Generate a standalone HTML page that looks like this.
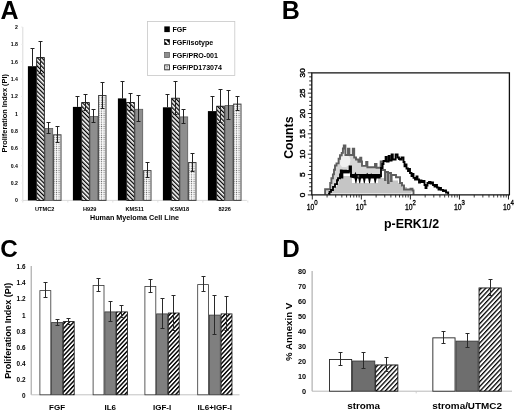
<!DOCTYPE html>
<html><head><meta charset="utf-8"><title>Figure</title>
<style>
html,body{margin:0;padding:0;background:#fff;}
body{width:520px;height:411px;overflow:hidden;}
svg{display:block;font-family:"Liberation Sans", sans-serif;will-change:transform;}
</style></head>
<body>
<svg width="520" height="411" viewBox="0 0 520 411">

<defs>
<pattern id="hA" patternUnits="userSpaceOnUse" width="3" height="3" patternTransform="rotate(-45)">
 <rect x="0" y="0" width="1.3" height="3" fill="#000"/></pattern>
<pattern id="hC" patternUnits="userSpaceOnUse" width="3.1" height="3.1" patternTransform="rotate(43)">
 <rect x="0" y="0" width="1.45" height="3.1" fill="#000"/></pattern>
<pattern id="hD" patternUnits="userSpaceOnUse" width="3.3" height="3.3" patternTransform="rotate(43)">
 <rect x="0" y="0" width="1.3" height="3.3" fill="#000"/></pattern>
<pattern id="dt" patternUnits="userSpaceOnUse" width="2.5" height="2.2" x="0.3" y="0">
 <rect width="2.5" height="2.2" fill="#fff"/><rect x="0.7" y="0.55" width="1.1" height="1.1" fill="#686868"/></pattern>
</defs>
<rect width="520" height="411" fill="#fff"/>
<text x="0.4" y="19.3" font-size="25" text-anchor="start" font-weight="bold" fill="#000" >A</text>
<path d="M22.8 27V200.4H246.8" stroke="#dadada" stroke-width="1" fill="none"/>
<path d="M22.8 200.4V202.6" stroke="#dcdcdc" stroke-width="0.8"/>
<path d="M67.8 200.4V202.6" stroke="#dcdcdc" stroke-width="0.8"/>
<path d="M112.8 200.4V202.6" stroke="#dcdcdc" stroke-width="0.8"/>
<path d="M157.8 200.4V202.6" stroke="#dcdcdc" stroke-width="0.8"/>
<path d="M202.8 200.4V202.6" stroke="#dcdcdc" stroke-width="0.8"/>
<path d="M247.8 200.4V202.6" stroke="#dcdcdc" stroke-width="0.8"/>
<path d="M21 200.4H22.8" stroke="#ececec" stroke-width="0.8"/>
<text x="17.9" y="202.25" font-size="5.2" text-anchor="end" font-weight="bold" fill="#000" >0</text>
<path d="M21 183.06H22.8" stroke="#ececec" stroke-width="0.8"/>
<text x="17.9" y="184.91" font-size="5.2" text-anchor="end" font-weight="bold" fill="#000" >0.2</text>
<path d="M21 165.72H22.8" stroke="#ececec" stroke-width="0.8"/>
<text x="17.9" y="167.57" font-size="5.2" text-anchor="end" font-weight="bold" fill="#000" >0.4</text>
<path d="M21 148.38H22.8" stroke="#ececec" stroke-width="0.8"/>
<text x="17.9" y="150.23" font-size="5.2" text-anchor="end" font-weight="bold" fill="#000" >0.6</text>
<path d="M21 131.04H22.8" stroke="#ececec" stroke-width="0.8"/>
<text x="17.9" y="132.89" font-size="5.2" text-anchor="end" font-weight="bold" fill="#000" >0.8</text>
<path d="M21 113.7H22.8" stroke="#ececec" stroke-width="0.8"/>
<text x="17.9" y="115.55" font-size="5.2" text-anchor="end" font-weight="bold" fill="#000" >1</text>
<path d="M21 96.36H22.8" stroke="#ececec" stroke-width="0.8"/>
<text x="17.9" y="98.21" font-size="5.2" text-anchor="end" font-weight="bold" fill="#000" >1.2</text>
<path d="M21 79.02H22.8" stroke="#ececec" stroke-width="0.8"/>
<text x="17.9" y="80.87" font-size="5.2" text-anchor="end" font-weight="bold" fill="#000" >1.4</text>
<path d="M21 61.68H22.8" stroke="#ececec" stroke-width="0.8"/>
<text x="17.9" y="63.53" font-size="5.2" text-anchor="end" font-weight="bold" fill="#000" >1.6</text>
<path d="M21 44.34H22.8" stroke="#ececec" stroke-width="0.8"/>
<text x="17.9" y="46.19" font-size="5.2" text-anchor="end" font-weight="bold" fill="#000" >1.8</text>
<path d="M21 27H22.8" stroke="#ececec" stroke-width="0.8"/>
<text x="17.9" y="28.85" font-size="5.2" text-anchor="end" font-weight="bold" fill="#000" >2</text>
<text transform="translate(7.3,113.3) rotate(-90) scale(1,1)" x="0" y="0" font-size="7.35" text-anchor="middle" font-weight="bold" fill="#000">Proliferation Index (PI)</text>
<rect x="27.9" y="66.2" width="8.4" height="134.2" fill="#000"/>
<rect x="36.7" y="57.6" width="7.6" height="142.8" fill="url(#hA)" stroke="#000" stroke-width="0.8"/>
<rect x="45.1" y="128.4" width="7.6" height="72" fill="#8e8e8e" stroke="#5a5a5a" stroke-width="0.8"/>
<rect x="53.6" y="134.8" width="7.4" height="65.6" fill="url(#dt)" stroke="#404040" stroke-width="1"/>
<path d="M32.5 48.5V66.2M30.5 48.5H34.5" stroke="#222" stroke-width="1" fill="none"/>
<path d="M40.5 41.5V73.5M38.5 41.5H42.5M38.5 73.5H42.5" stroke="#222" stroke-width="1" fill="none"/>
<path d="M48.5 122.5V133.5M46.5 122.5H50.5M46.5 133.5H50.5" stroke="#222" stroke-width="1" fill="none"/>
<path d="M57.5 126.5V142.5M55.5 126.5H59.5M55.5 142.5H59.5" stroke="#222" stroke-width="1" fill="none"/>
<text x="44.7" y="210.6" font-size="5.6" text-anchor="middle" font-weight="bold" fill="#000" >UTMC2</text>
<rect x="72.9" y="106.9" width="8.4" height="93.5" fill="#000"/>
<rect x="81.7" y="102.6" width="7.6" height="97.8" fill="url(#hA)" stroke="#000" stroke-width="0.8"/>
<rect x="90.1" y="116.5" width="7.6" height="83.9" fill="#8e8e8e" stroke="#5a5a5a" stroke-width="0.8"/>
<rect x="98.6" y="95.5" width="7.4" height="104.9" fill="url(#dt)" stroke="#404040" stroke-width="1"/>
<path d="M77.5 96.5V106.9M75.5 96.5H79.5" stroke="#222" stroke-width="1" fill="none"/>
<path d="M85.5 94.5V110.5M83.5 94.5H87.5M83.5 110.5H87.5" stroke="#222" stroke-width="1" fill="none"/>
<path d="M93.5 109.5V122.5M91.5 109.5H95.5M91.5 122.5H95.5" stroke="#222" stroke-width="1" fill="none"/>
<path d="M102.5 82.5V108.5M100.5 82.5H104.5M100.5 108.5H104.5" stroke="#222" stroke-width="1" fill="none"/>
<text x="89.7" y="210.6" font-size="5.6" text-anchor="middle" font-weight="bold" fill="#000" >H929</text>
<rect x="117.9" y="98.4" width="8.4" height="102" fill="#000"/>
<rect x="126.7" y="102.5" width="7.6" height="97.9" fill="url(#hA)" stroke="#000" stroke-width="0.8"/>
<rect x="135.1" y="109.3" width="7.6" height="91.1" fill="#8e8e8e" stroke="#5a5a5a" stroke-width="0.8"/>
<rect x="143.6" y="170.6" width="7.4" height="29.8" fill="url(#dt)" stroke="#404040" stroke-width="1"/>
<path d="M122.5 81.5V98.4M120.5 81.5H124.5" stroke="#222" stroke-width="1" fill="none"/>
<path d="M130.5 93.5V110.5M128.5 93.5H132.5M128.5 110.5H132.5" stroke="#222" stroke-width="1" fill="none"/>
<path d="M138.5 95.5V121.5M136.5 95.5H140.5M136.5 121.5H140.5" stroke="#222" stroke-width="1" fill="none"/>
<path d="M147.5 162.5V177.5M145.5 162.5H149.5M145.5 177.5H149.5" stroke="#222" stroke-width="1" fill="none"/>
<text x="134.7" y="210.6" font-size="5.6" text-anchor="middle" font-weight="bold" fill="#000" >KMS11</text>
<rect x="162.9" y="107.3" width="8.4" height="93.1" fill="#000"/>
<rect x="171.7" y="98.2" width="7.6" height="102.2" fill="url(#hA)" stroke="#000" stroke-width="0.8"/>
<rect x="180.1" y="116.9" width="7.6" height="83.5" fill="#8e8e8e" stroke="#5a5a5a" stroke-width="0.8"/>
<rect x="188.6" y="162.5" width="7.4" height="37.9" fill="url(#dt)" stroke="#404040" stroke-width="1"/>
<path d="M167.5 94.5V107.3M165.5 94.5H169.5" stroke="#222" stroke-width="1" fill="none"/>
<path d="M175.5 81.5V114.5M173.5 81.5H177.5M173.5 114.5H177.5" stroke="#222" stroke-width="1" fill="none"/>
<path d="M183.5 109.5V123.5M181.5 109.5H185.5M181.5 123.5H185.5" stroke="#222" stroke-width="1" fill="none"/>
<path d="M192.5 153.5V171.5M190.5 153.5H194.5M190.5 171.5H194.5" stroke="#222" stroke-width="1" fill="none"/>
<text x="179.7" y="210.6" font-size="5.6" text-anchor="middle" font-weight="bold" fill="#000" >KSM18</text>
<rect x="207.9" y="111.1" width="8.4" height="89.3" fill="#000"/>
<rect x="216.7" y="106.2" width="7.6" height="94.2" fill="url(#hA)" stroke="#000" stroke-width="0.8"/>
<rect x="225.1" y="105.4" width="7.6" height="95" fill="#8e8e8e" stroke="#5a5a5a" stroke-width="0.8"/>
<rect x="233.6" y="104.1" width="7.4" height="96.3" fill="url(#dt)" stroke="#404040" stroke-width="1"/>
<path d="M212.5 96.5V111.1M210.5 96.5H214.5" stroke="#222" stroke-width="1" fill="none"/>
<path d="M220.5 89.5V122.5M218.5 89.5H222.5M218.5 122.5H222.5" stroke="#222" stroke-width="1" fill="none"/>
<path d="M228.5 90.5V119.5M226.5 90.5H230.5M226.5 119.5H230.5" stroke="#222" stroke-width="1" fill="none"/>
<path d="M237.5 96.5V110.5M235.5 96.5H239.5M235.5 110.5H239.5" stroke="#222" stroke-width="1" fill="none"/>
<text x="224.7" y="210.6" font-size="5.6" text-anchor="middle" font-weight="bold" fill="#000" >8226</text>
<text x="134.5" y="220.4" font-size="7.2" text-anchor="middle" font-weight="bold" fill="#000" >Human Myeloma Cell Line</text>
<rect x="147.5" y="21.5" width="87.3" height="54" fill="#fff" stroke="#c8c8c8" stroke-width="0.8"/>
<rect x="164.3" y="26.4" width="5.5" height="5.7" fill="#000"/>
<text x="172.5" y="32.3" font-size="7.05" text-anchor="start" font-weight="bold" fill="#000" >FGF</text>
<rect x="164.6" y="39.6" width="4.9" height="5.1" fill="#000" stroke="#000" stroke-width="0.6"/>
<path d="M165.3 40.6L168.7 44" stroke="#fff" stroke-width="1.8"/>
<text x="172.5" y="45.2" font-size="7.05" text-anchor="start" font-weight="bold" fill="#000" >FGF/isotype</text>
<rect x="164.6" y="52.4" width="4.9" height="5.1" fill="#8e8e8e" stroke="#555" stroke-width="0.7"/>
<text x="172.5" y="58" font-size="7.05" text-anchor="start" font-weight="bold" fill="#000" >FGF/PRO-001</text>
<rect x="164.7" y="64.9" width="4.7" height="4.9" fill="#fff" stroke="#333" stroke-width="1"/>
<path d="M166.3 66.4h1.6M166.3 68h1.6" stroke="#777" stroke-width="0.9"/>
<text x="172.5" y="70.4" font-size="7.05" text-anchor="start" font-weight="bold" fill="#000" >FGF/PD173074</text>
<text x="281.7" y="18.9" font-size="25" text-anchor="start" font-weight="bold" fill="#000" >B</text>
<polygon points="325.1,194.6 325.1,189.2 330.2,189.2 330.2,183 331.4,183 331.4,178.2 332.9,178.2 332.9,174.4 334,174.4 334,169.7 335,169.7 335,165.5 336.5,165.5 336.5,163.4 338.6,163.4 338.6,158.7 340,158.7 340,155.2 341.7,155.2 341.7,152.9 342.9,152.9 342.9,148.5 343.8,148.5 343.8,145.5 345.4,145.5 345.4,155 348,155 348,148.8 349.4,148.8 349.4,155 352.8,155 352.8,148.8 354.2,148.8 354.2,157.5 356,157.5 356,159.5 358.4,159.5 358.4,161.8 360.2,161.8 360.2,157.7 361.3,157.7 361.3,161.5 362,161.5 362,165.9 366.2,165.9 366.2,162 367.4,162 367.4,167.2 375,167.2 375,164 376.5,164 376.5,167.8 380.7,167.8 380.7,161.5 382.7,161.5 382.7,170 385,170 385,180 385.6,180 385.6,172 388,172 388,183 388.6,183 388.6,173 391,173 391,181 391.6,181 391.6,175 396,175 396,177.3 400,177.3 400,183 402,183 402,185.5 404,185.5 404,189.5 410.5,189.5 410.5,188.7 412.5,188.7 412.5,190.5 413.5,190.5 413.5,194.6" fill="#d6d6d6"/>
<polygon points="339.8,164 341,158 342.8,154.5 345,152.5 347.2,155 349.5,157 350.5,160 349.5,165 346,167 342,167" fill="#f0f0f0"/>
<polygon points="329,194.6 329,194 329.5,194 329.5,191.9 331,191.9 331,190 333,190 333,186.8 335,186.8 335,184.1 337,184.1 337,180.2 338,180.2 338,178.2 340,178.2 340,174.4 340.8,174.4 340.8,170.4 341.6,170.4 341.6,177.5 342.4,177.5 342.4,170.6 346,170.6 346,171.2 349.6,171.2 349.6,166.4 351,166.4 351,176.2 381,176.2 381,168 382.3,168 382.3,164 383.5,164 383.5,161 385.6,161 385.6,157 386.6,157 386.6,161.5 388.6,161.5 388.6,155.8 389.6,155.8 389.6,160.5 391.6,160.5 391.6,154.5 392.8,154.5 392.8,159.5 395.6,159.5 395.6,154.5 397.6,154.5 397.6,157.5 399,157.5 399,159 400,159 400,159.5 401.5,159.5 401.5,157.5 403.5,157.5 403.5,162 404.5,162 404.5,166.3 405.5,166.3 405.5,164.5 406.5,164.5 406.5,168.5 408,168.5 408,171 409,171 409,169 410,169 410,173 411.5,173 411.5,176 412.5,176 412.5,174 413.5,174 413.5,177.8 415,177.8 415,179.5 416.5,179.5 416.5,176.5 417.5,176.5 417.5,179.5 419,179.5 419,182.5 420,182.5 420,180.5 421.5,180.5 421.5,182 423,182 423,181 424.5,181 424.5,185 425.5,185 425.5,188 426.5,188 426.5,185.5 427.5,185.5 427.5,183 429,183 429,182 430.5,182 430.5,183.5 432,183.5 432,182.3 433,182.3 433,185 434.5,185 434.5,186.5 436,186.5 436,185 437,185 437,187.5 438.5,187.5 438.5,189.5 440,189.5 440,188 441,188 441,189.8 443,189.8 443,191 444,191 444,190.5 446,190.5 446,192.5 448.2,192.5 448.2,194.6" fill="#fff"/>
<polygon points="329.5,193.6 329.5,192.5 331,192.5 331,190.5 333,190.5 333,188.5 335,188.5 335,186.5 337,186.5 337,183.5 338.5,183.5 338.5,180.5 340,180.5 340,178.5 342,178.5 342,176.1 352,176.1 352,183 378,183 378,178 385,178 385,180.4 398,180.4 398,183 402,183 402,187 407,187 407,190 411.5,190 411.5,193.6" fill="#c5c5c5"/>
<polyline points="325.1,194.6 325.1,189.2 330.2,189.2 330.2,183 331.4,183 331.4,178.2 332.9,178.2 332.9,174.4 334,174.4 334,169.7 335,169.7 335,165.5 336.5,165.5 336.5,163.4 338.6,163.4 338.6,158.7 340,158.7 340,155.2 341.7,155.2 341.7,152.9 342.9,152.9 342.9,148.5 343.8,148.5 343.8,145.5 345.4,145.5 345.4,155 348,155 348,148.8 349.4,148.8 349.4,155 352.8,155 352.8,148.8 354.2,148.8 354.2,157.5 356,157.5 356,159.5 358.4,159.5 358.4,161.8 360.2,161.8 360.2,157.7 361.3,157.7 361.3,161.5 362,161.5 362,165.9 366.2,165.9 366.2,162 367.4,162 367.4,167.2 375,167.2 375,164 376.5,164 376.5,167.8 380.7,167.8 380.7,161.5 382.7,161.5 382.7,170 385,170 385,180 385.6,180 385.6,172 388,172 388,183 388.6,183 388.6,173 391,173 391,181 391.6,181 391.6,175 396,175 396,177.3 400,177.3 400,183 402,183 402,185.5 404,185.5 404,189.5 410.5,189.5 410.5,188.7 412.5,188.7 412.5,190.5 413.5,190.5 413.5,194.6" fill="none" stroke="#5e5e5e" stroke-width="1.9" stroke-linejoin="miter"/>
<polyline points="329,194.6 329,194 329.5,194 329.5,191.9 331,191.9 331,190 333,190 333,186.8 335,186.8 335,184.1 337,184.1 337,180.2 338,180.2 338,178.2 340,178.2 340,174.4 340.8,174.4 340.8,170.4 341.6,170.4 341.6,177.5 342.4,177.5 342.4,170.6 346,170.6 346,171.2 349.6,171.2 349.6,166.4 351,166.4 351,176.2 381,176.2 381,168 382.3,168 382.3,164 383.5,164 383.5,161 385.6,161 385.6,157 386.6,157 386.6,161.5 388.6,161.5 388.6,155.8 389.6,155.8 389.6,160.5 391.6,160.5 391.6,154.5 392.8,154.5 392.8,159.5 395.6,159.5 395.6,154.5 397.6,154.5 397.6,157.5 399,157.5 399,159 400,159 400,159.5 401.5,159.5 401.5,157.5 403.5,157.5 403.5,162 404.5,162 404.5,166.3 405.5,166.3 405.5,164.5 406.5,164.5 406.5,168.5 408,168.5 408,171 409,171 409,169 410,169 410,173 411.5,173 411.5,176 412.5,176 412.5,174 413.5,174 413.5,177.8 415,177.8 415,179.5 416.5,179.5 416.5,176.5 417.5,176.5 417.5,179.5 419,179.5 419,182.5 420,182.5 420,180.5 421.5,180.5 421.5,182 423,182 423,181 424.5,181 424.5,185 425.5,185 425.5,188 426.5,188 426.5,185.5 427.5,185.5 427.5,183 429,183 429,182 430.5,182 430.5,183.5 432,183.5 432,182.3 433,182.3 433,185 434.5,185 434.5,186.5 436,186.5 436,185 437,185 437,187.5 438.5,187.5 438.5,189.5 440,189.5 440,188 441,188 441,189.8 443,189.8 443,191 444,191 444,190.5 446,190.5 446,192.5 448.2,192.5 448.2,194.6" fill="none" stroke="#000" stroke-width="1.85" stroke-linejoin="miter"/>
<rect x="342.4" y="170" width="7.4" height="3.4" fill="#000"/>
<polygon points="350.2,174 354.6,174 355.4,171.8 356.3,174 366.4,174 367.2,172.8 368,174 370.6,174 371.2,173.2 371.8,174 380.6,174 380.6,178.6 376.6,178.6 375.6,183.3 374.8,183.3 373.8,178.6 370.8,178.6 369.9,183.3 369.1,183.3 368.2,178.6 365.6,178.6 364.7,183.3 363.9,183.3 363,178.6 361,178.6 360.1,183.3 359.3,183.3 358.4,178.6 357.2,178.6 356.3,183.3 355.5,183.3 354.6,178.6 350.2,177.2" fill="#000"/>
<rect x="357.6" y="175.2" width="1.6" height="2.2" fill="#666"/>
<path d="M311.8 72.8H509.4V194.9H311.8Z" fill="none" stroke="#111" stroke-width="1.3"/>
<path d="M307.8 194.9H311.8" stroke="#111" stroke-width="0.9"/>
<path d="M309.2 190.83H311.8" stroke="#111" stroke-width="0.9"/>
<path d="M309.2 186.76H311.8" stroke="#111" stroke-width="0.9"/>
<path d="M309.2 182.69H311.8" stroke="#111" stroke-width="0.9"/>
<path d="M309.2 178.62H311.8" stroke="#111" stroke-width="0.9"/>
<path d="M307.8 174.55H311.8" stroke="#111" stroke-width="0.9"/>
<path d="M309.2 170.48H311.8" stroke="#111" stroke-width="0.9"/>
<path d="M309.2 166.41H311.8" stroke="#111" stroke-width="0.9"/>
<path d="M309.2 162.34H311.8" stroke="#111" stroke-width="0.9"/>
<path d="M309.2 158.27H311.8" stroke="#111" stroke-width="0.9"/>
<path d="M307.8 154.2H311.8" stroke="#111" stroke-width="0.9"/>
<path d="M309.2 150.13H311.8" stroke="#111" stroke-width="0.9"/>
<path d="M309.2 146.06H311.8" stroke="#111" stroke-width="0.9"/>
<path d="M309.2 141.99H311.8" stroke="#111" stroke-width="0.9"/>
<path d="M309.2 137.92H311.8" stroke="#111" stroke-width="0.9"/>
<path d="M307.8 133.85H311.8" stroke="#111" stroke-width="0.9"/>
<path d="M309.2 129.78H311.8" stroke="#111" stroke-width="0.9"/>
<path d="M309.2 125.71H311.8" stroke="#111" stroke-width="0.9"/>
<path d="M309.2 121.64H311.8" stroke="#111" stroke-width="0.9"/>
<path d="M309.2 117.57H311.8" stroke="#111" stroke-width="0.9"/>
<path d="M307.8 113.5H311.8" stroke="#111" stroke-width="0.9"/>
<path d="M309.2 109.43H311.8" stroke="#111" stroke-width="0.9"/>
<path d="M309.2 105.36H311.8" stroke="#111" stroke-width="0.9"/>
<path d="M309.2 101.29H311.8" stroke="#111" stroke-width="0.9"/>
<path d="M309.2 97.22H311.8" stroke="#111" stroke-width="0.9"/>
<path d="M307.8 93.15H311.8" stroke="#111" stroke-width="0.9"/>
<path d="M309.2 89.08H311.8" stroke="#111" stroke-width="0.9"/>
<path d="M309.2 85.01H311.8" stroke="#111" stroke-width="0.9"/>
<path d="M309.2 80.94H311.8" stroke="#111" stroke-width="0.9"/>
<path d="M309.2 76.87H311.8" stroke="#111" stroke-width="0.9"/>
<path d="M307.8 72.8H311.8" stroke="#111" stroke-width="0.9"/>
<text transform="translate(304.7,194.9) rotate(-90) scale(1.18,1)" font-size="7.1" text-anchor="middle" fill="#000" stroke="#000" stroke-width="0.38">0</text>
<text transform="translate(304.7,174.55) rotate(-90) scale(1.18,1)" font-size="7.1" text-anchor="middle" fill="#000" stroke="#000" stroke-width="0.38">5</text>
<text transform="translate(304.7,154.2) rotate(-90) scale(1.18,1)" font-size="7.1" text-anchor="middle" fill="#000" stroke="#000" stroke-width="0.38">10</text>
<text transform="translate(304.7,133.85) rotate(-90) scale(1.18,1)" font-size="7.1" text-anchor="middle" fill="#000" stroke="#000" stroke-width="0.38">15</text>
<text transform="translate(304.7,113.5) rotate(-90) scale(1.18,1)" font-size="7.1" text-anchor="middle" fill="#000" stroke="#000" stroke-width="0.38">20</text>
<text transform="translate(304.7,93.15) rotate(-90) scale(1.18,1)" font-size="7.1" text-anchor="middle" fill="#000" stroke="#000" stroke-width="0.38">25</text>
<text transform="translate(304.7,72.8) rotate(-90) scale(1.18,1)" font-size="7.1" text-anchor="middle" fill="#000" stroke="#000" stroke-width="0.38">30</text>
<path d="M312.3 194.9V199.5" stroke="#111" stroke-width="0.9"/>
<path d="M327.07 194.9V197.5" stroke="#111" stroke-width="0.8"/>
<path d="M335.7 194.9V197.5" stroke="#111" stroke-width="0.8"/>
<path d="M341.83 194.9V197.5" stroke="#111" stroke-width="0.8"/>
<path d="M346.58 194.9V197.5" stroke="#111" stroke-width="0.8"/>
<path d="M350.47 194.9V197.5" stroke="#111" stroke-width="0.8"/>
<path d="M353.75 194.9V197.5" stroke="#111" stroke-width="0.8"/>
<path d="M356.6 194.9V197.5" stroke="#111" stroke-width="0.8"/>
<path d="M359.11 194.9V197.5" stroke="#111" stroke-width="0.8"/>
<g transform="translate(306.8,210.2) scale(0.76,1)" fill="#000" stroke="#000" stroke-width="0.32"><text font-size="9">10</text><text x="9.9" y="-5.1" font-size="8">0</text></g>
<path d="M361.35 194.9V199.5" stroke="#111" stroke-width="0.9"/>
<path d="M376.12 194.9V197.5" stroke="#111" stroke-width="0.8"/>
<path d="M384.75 194.9V197.5" stroke="#111" stroke-width="0.8"/>
<path d="M390.88 194.9V197.5" stroke="#111" stroke-width="0.8"/>
<path d="M395.63 194.9V197.5" stroke="#111" stroke-width="0.8"/>
<path d="M399.52 194.9V197.5" stroke="#111" stroke-width="0.8"/>
<path d="M402.8 194.9V197.5" stroke="#111" stroke-width="0.8"/>
<path d="M405.65 194.9V197.5" stroke="#111" stroke-width="0.8"/>
<path d="M408.16 194.9V197.5" stroke="#111" stroke-width="0.8"/>
<g transform="translate(355.85,210.2) scale(0.76,1)" fill="#000" stroke="#000" stroke-width="0.32"><text font-size="9">10</text><text x="9.9" y="-5.1" font-size="8">1</text></g>
<path d="M410.4 194.9V199.5" stroke="#111" stroke-width="0.9"/>
<path d="M425.17 194.9V197.5" stroke="#111" stroke-width="0.8"/>
<path d="M433.8 194.9V197.5" stroke="#111" stroke-width="0.8"/>
<path d="M439.93 194.9V197.5" stroke="#111" stroke-width="0.8"/>
<path d="M444.68 194.9V197.5" stroke="#111" stroke-width="0.8"/>
<path d="M448.57 194.9V197.5" stroke="#111" stroke-width="0.8"/>
<path d="M451.85 194.9V197.5" stroke="#111" stroke-width="0.8"/>
<path d="M454.7 194.9V197.5" stroke="#111" stroke-width="0.8"/>
<path d="M457.21 194.9V197.5" stroke="#111" stroke-width="0.8"/>
<g transform="translate(404.9,210.2) scale(0.76,1)" fill="#000" stroke="#000" stroke-width="0.32"><text font-size="9">10</text><text x="9.9" y="-5.1" font-size="8">2</text></g>
<path d="M459.45 194.9V199.5" stroke="#111" stroke-width="0.9"/>
<path d="M474.22 194.9V197.5" stroke="#111" stroke-width="0.8"/>
<path d="M482.85 194.9V197.5" stroke="#111" stroke-width="0.8"/>
<path d="M488.98 194.9V197.5" stroke="#111" stroke-width="0.8"/>
<path d="M493.73 194.9V197.5" stroke="#111" stroke-width="0.8"/>
<path d="M497.62 194.9V197.5" stroke="#111" stroke-width="0.8"/>
<path d="M500.9 194.9V197.5" stroke="#111" stroke-width="0.8"/>
<path d="M503.75 194.9V197.5" stroke="#111" stroke-width="0.8"/>
<path d="M506.26 194.9V197.5" stroke="#111" stroke-width="0.8"/>
<g transform="translate(453.95,210.2) scale(0.76,1)" fill="#000" stroke="#000" stroke-width="0.32"><text font-size="9">10</text><text x="9.9" y="-5.1" font-size="8">3</text></g>
<path d="M508.5 194.9V199.5" stroke="#111" stroke-width="0.9"/>
<g transform="translate(503,210.2) scale(0.76,1)" fill="#000" stroke="#000" stroke-width="0.32"><text font-size="9">10</text><text x="9.9" y="-5.1" font-size="8">4</text></g>
<text transform="translate(292.8,137.7) rotate(-90) scale(1,1)" x="0" y="0" font-size="12.3" text-anchor="middle" font-weight="bold" fill="#000">Counts</text>
<text x="411.5" y="227.9" font-size="12.4" text-anchor="middle" font-weight="bold" fill="#000" >p-ERK1/2</text>
<text x="0.2" y="257.3" font-size="24.2" text-anchor="start" font-weight="bold" fill="#000" >C</text>
<path d="M31.2 266V394.8" stroke="#9a9a9a" stroke-width="1" fill="none"/>
<path d="M31.2 394.8H239.5" stroke="#c2c2c2" stroke-width="1" fill="none"/>
<text x="25.5" y="398" font-size="6.4" text-anchor="end" font-weight="bold" fill="#000" >0</text>
<text x="25.5" y="381.9" font-size="6.4" text-anchor="end" font-weight="bold" fill="#000" >0.2</text>
<text x="25.5" y="365.8" font-size="6.4" text-anchor="end" font-weight="bold" fill="#000" >0.4</text>
<text x="25.5" y="349.7" font-size="6.4" text-anchor="end" font-weight="bold" fill="#000" >0.6</text>
<text x="25.5" y="333.6" font-size="6.4" text-anchor="end" font-weight="bold" fill="#000" >0.8</text>
<text x="25.5" y="317.5" font-size="6.4" text-anchor="end" font-weight="bold" fill="#000" >1</text>
<text x="25.5" y="301.4" font-size="6.4" text-anchor="end" font-weight="bold" fill="#000" >1.2</text>
<text x="25.5" y="285.3" font-size="6.4" text-anchor="end" font-weight="bold" fill="#000" >1.4</text>
<text x="25.5" y="269.2" font-size="6.4" text-anchor="end" font-weight="bold" fill="#000" >1.6</text>
<text transform="translate(11.4,330.75) rotate(-90) scale(1,1)" x="0" y="0" font-size="9" text-anchor="middle" font-weight="bold" fill="#000">Proliferation Index (PI)</text>
<rect x="39.9" y="290.6" width="10.9" height="104.2" fill="#fff" stroke="#333" stroke-width="0.8"/>
<rect x="51.6" y="322.5" width="10.9" height="72.3" fill="#7f7f7f" stroke="#3a3a3a" stroke-width="0.8"/>
<rect x="63.3" y="321.6" width="10.9" height="73.2" fill="url(#hC)" stroke="#111" stroke-width="0.8"/>
<path d="M45.5 282.5V297.5M43.5 282.5H47.5M43.5 297.5H47.5" stroke="#2a2a2a" stroke-width="1" fill="none"/>
<path d="M57.5 319.5V325.5M55.5 319.5H59.5M55.5 325.5H59.5" stroke="#2a2a2a" stroke-width="1" fill="none"/>
<path d="M68.5 318.5V324.5M66.5 318.5H70.5M66.5 324.5H70.5" stroke="#2a2a2a" stroke-width="1" fill="none"/>
<text x="57.05" y="409.6" font-size="8" text-anchor="middle" font-weight="bold" fill="#000" >FGF</text>
<rect x="93.1" y="285.4" width="10.9" height="109.4" fill="#fff" stroke="#333" stroke-width="0.8"/>
<rect x="104.8" y="311.9" width="10.9" height="82.9" fill="#7f7f7f" stroke="#3a3a3a" stroke-width="0.8"/>
<rect x="116.5" y="311.9" width="10.9" height="82.9" fill="url(#hC)" stroke="#111" stroke-width="0.8"/>
<path d="M98.5 278.5V291.5M96.5 278.5H100.5M96.5 291.5H100.5" stroke="#2a2a2a" stroke-width="1" fill="none"/>
<path d="M110.5 301.5V321.5M108.5 301.5H112.5M108.5 321.5H112.5" stroke="#2a2a2a" stroke-width="1" fill="none"/>
<path d="M121.5 305.5V317.5M119.5 305.5H123.5M119.5 317.5H123.5" stroke="#2a2a2a" stroke-width="1" fill="none"/>
<text x="110.25" y="409.6" font-size="8" text-anchor="middle" font-weight="bold" fill="#000" >IL6</text>
<rect x="144.9" y="286.5" width="10.9" height="108.3" fill="#fff" stroke="#333" stroke-width="0.8"/>
<rect x="156.6" y="313.9" width="10.9" height="80.9" fill="#7f7f7f" stroke="#3a3a3a" stroke-width="0.8"/>
<rect x="168.3" y="313" width="10.9" height="81.8" fill="url(#hC)" stroke="#111" stroke-width="0.8"/>
<path d="M150.5 279.5V292.5M148.5 279.5H152.5M148.5 292.5H152.5" stroke="#2a2a2a" stroke-width="1" fill="none"/>
<path d="M162.5 298.5V328.5M160.5 298.5H164.5M160.5 328.5H164.5" stroke="#2a2a2a" stroke-width="1" fill="none"/>
<path d="M173.5 295.5V330.5M171.5 295.5H175.5M171.5 330.5H175.5" stroke="#2a2a2a" stroke-width="1" fill="none"/>
<text x="162.05" y="409.6" font-size="8" text-anchor="middle" font-weight="bold" fill="#000" >IGF-I</text>
<rect x="197.7" y="284.6" width="10.9" height="110.2" fill="#fff" stroke="#333" stroke-width="0.8"/>
<rect x="209.4" y="315.1" width="10.9" height="79.7" fill="#7f7f7f" stroke="#3a3a3a" stroke-width="0.8"/>
<rect x="221.1" y="313.9" width="10.9" height="80.9" fill="url(#hC)" stroke="#111" stroke-width="0.8"/>
<path d="M203.5 276.5V291.5M201.5 276.5H205.5M201.5 291.5H205.5" stroke="#2a2a2a" stroke-width="1" fill="none"/>
<path d="M214.5 295.5V334.5M212.5 295.5H216.5M212.5 334.5H216.5" stroke="#2a2a2a" stroke-width="1" fill="none"/>
<path d="M226.5 296.5V330.5M224.5 296.5H228.5M224.5 330.5H228.5" stroke="#2a2a2a" stroke-width="1" fill="none"/>
<text x="214.85" y="409.6" font-size="8" text-anchor="middle" font-weight="bold" fill="#000" >IL6+IGF-I</text>
<text x="282.3" y="256.9" font-size="24.2" text-anchor="start" font-weight="bold" fill="#000" >D</text>
<path d="M312.1 271V391.2" stroke="#a0a0a0" stroke-width="1" fill="none"/>
<path d="M312.1 391.2H512" stroke="#b8b8b8" stroke-width="1" fill="none"/>
<path d="M416.2 391.2V393.4" stroke="#c8c8c8" stroke-width="0.8"/>
<text x="306.1" y="393.8" font-size="7.3" text-anchor="end" font-weight="bold" fill="#000" >0</text>
<text x="306.1" y="378.8" font-size="7.3" text-anchor="end" font-weight="bold" fill="#000" >10</text>
<text x="306.1" y="363.8" font-size="7.3" text-anchor="end" font-weight="bold" fill="#000" >20</text>
<text x="306.1" y="348.8" font-size="7.3" text-anchor="end" font-weight="bold" fill="#000" >30</text>
<text x="306.1" y="333.8" font-size="7.3" text-anchor="end" font-weight="bold" fill="#000" >40</text>
<text x="306.1" y="318.8" font-size="7.3" text-anchor="end" font-weight="bold" fill="#000" >50</text>
<text x="306.1" y="303.8" font-size="7.3" text-anchor="end" font-weight="bold" fill="#000" >60</text>
<text x="306.1" y="288.8" font-size="7.3" text-anchor="end" font-weight="bold" fill="#000" >70</text>
<text x="306.1" y="273.8" font-size="7.3" text-anchor="end" font-weight="bold" fill="#000" >80</text>
<text transform="translate(291.7,331.9) rotate(-90) scale(1,1)" x="0" y="0" font-size="9.7" text-anchor="middle" font-weight="bold" fill="#000">% Annexin V</text>
<rect x="329.45" y="359.45" width="22.2" height="31.75" fill="#fff" stroke="#222" stroke-width="0.9"/>
<rect x="352.55" y="361.05" width="22.2" height="30.15" fill="#6e6e6e" stroke="#3a3a3a" stroke-width="0.9"/>
<rect x="375.65" y="364.95" width="22.2" height="26.25" fill="url(#hD)" stroke="#111" stroke-width="0.9"/>
<path d="M340.5 352.5V365.5M338.5 352.5H342.5M338.5 365.5H342.5" stroke="#2a2a2a" stroke-width="1" fill="none"/>
<path d="M363.5 352.5V368.5M361.5 352.5H365.5M361.5 368.5H365.5" stroke="#2a2a2a" stroke-width="1" fill="none"/>
<path d="M386.5 357.5V371.5M384.5 357.5H388.5M384.5 371.5H388.5" stroke="#2a2a2a" stroke-width="1" fill="none"/>
<text x="363.65" y="408.9" font-size="9.9" text-anchor="middle" font-weight="bold" fill="#000" >stroma</text>
<rect x="432.85" y="337.85" width="22.2" height="53.35" fill="#fff" stroke="#222" stroke-width="0.9"/>
<rect x="455.95" y="341.15" width="22.2" height="50.05" fill="#6e6e6e" stroke="#3a3a3a" stroke-width="0.9"/>
<rect x="479.05" y="287.95" width="22.2" height="103.25" fill="url(#hD)" stroke="#111" stroke-width="0.9"/>
<path d="M443.5 331.5V343.5M441.5 331.5H445.5M441.5 343.5H445.5" stroke="#2a2a2a" stroke-width="1" fill="none"/>
<path d="M467.5 333.5V347.5M465.5 333.5H469.5M465.5 347.5H469.5" stroke="#2a2a2a" stroke-width="1" fill="none"/>
<path d="M490.5 279.5V295.5M488.5 279.5H492.5M488.5 295.5H492.5" stroke="#2a2a2a" stroke-width="1" fill="none"/>
<text x="467.05" y="408.9" font-size="9.9" text-anchor="middle" font-weight="bold" fill="#000" >stroma/UTMC2</text>
</svg>
</body></html>
